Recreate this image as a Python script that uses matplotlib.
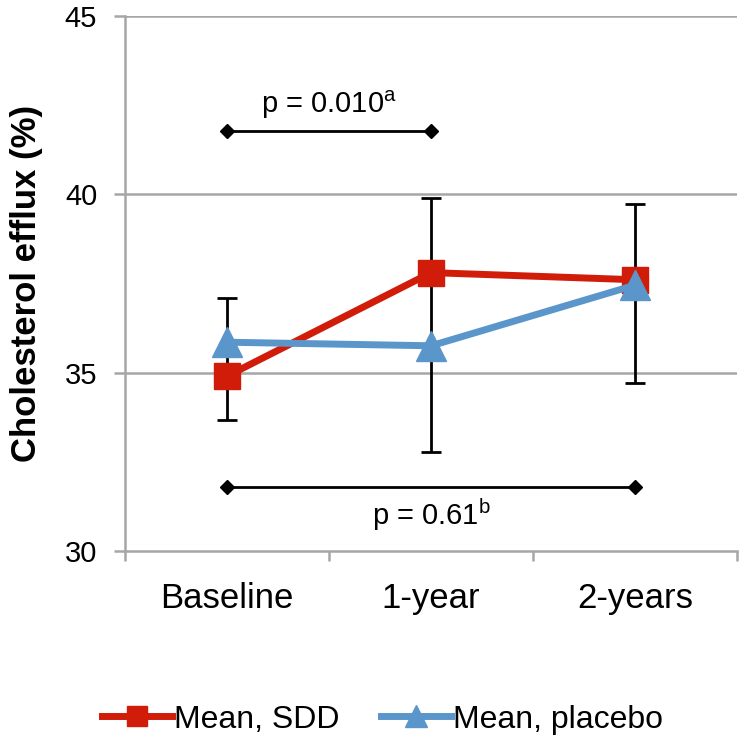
import numpy as np
import matplotlib.pyplot as plt

# data
categories = ['Baseline', '1-year', '2-years']
sdd_mean = [34.9, 37.8, 37.6]
placebo_mean = [35.85, 35.75, 37.45]
err_low = [33.66, 32.77, 34.70]
err_high = [37.10, 39.89, 39.72]
yticks = [30, 35, 40, 45]

bracket_top = 41.76
bracket_bottom = 31.79
p_top = 'p = 0.010$^{\\mathregular{a}}$'
p_bottom = 'p = 0.61$^{\\mathregular{b}}$'

plt.rcParams['font.family'] = ['Liberation Sans', 'DejaVu Sans']

fig = plt.figure(figsize=(7.5, 7.45), dpi=100)
ax = fig.add_axes([0.1667, 0.2604, 0.8163, 0.7186])

x = np.arange(len(categories))
center = (np.array(err_low) + np.array(err_high)) / 2
yerr = [center - np.array(err_low), np.array(err_high) - center]

grid_c = '#a6a6a6'
for v in yticks[1:]:
    ax.axhline(v, color=grid_c, lw=1.8, zorder=0)

ax.errorbar(x, center, yerr=yerr, fmt='none', ecolor='black', elinewidth=2,
            capsize=7.5, capthick=2, zorder=2)

ax.plot(x, sdd_mean, color='#d01c08', lw=5, marker='s', ms=18.5,
        label='Mean, SDD', zorder=3)
ax.plot(x, placebo_mean, color='#5b96cb', lw=5, marker='^', ms=21,
        label='Mean, placebo', zorder=4)

# significance brackets
ax.plot([0, 1], [bracket_top] * 2, color='black', lw=2, marker='D', ms=7)
ax.text(0.5, bracket_top + 0.3, p_top, ha='center', va='bottom', fontsize=21)
ax.plot([0, 2], [bracket_bottom] * 2, color='black', lw=2, marker='D', ms=7)
ax.text(1.0, bracket_bottom - 0.25, p_bottom, ha='center', va='top', fontsize=21)

ax.set_xlim(-0.5, 2.5)
ax.set_ylim(30, 45)
ax.set_yticks(yticks)
ax.tick_params(axis='y', labelsize=21, length=8, width=1.8, color=grid_c, pad=12)
ax.set_xticks(x)
ax.set_xticklabels(categories, fontsize=25)
ax.tick_params(axis='x', which='major', length=0, pad=22)
ax.set_xticks([-0.5, 0.5, 1.5, 2.5], minor=True)
ax.tick_params(axis='x', which='minor', length=7, width=1.8, color=grid_c)

for s in ['top', 'right']:
    ax.spines[s].set_visible(False)
for s in ['left', 'bottom']:
    ax.spines[s].set_color(grid_c)
    ax.spines[s].set_linewidth(1.8)

ax.set_ylabel('Cholesterol efflux (%)', fontsize=25, fontweight='bold')
ax.yaxis.set_label_coords(-0.134, 0.5)

fig.legend(loc='center', bbox_to_anchor=(0.51, 0.034), ncol=2, frameon=False,
           fontsize=23, handlelength=2.2, handletextpad=0.05, columnspacing=1.3,
           markerscale=0.75)

fig.savefig('out.png', dpi=100)
